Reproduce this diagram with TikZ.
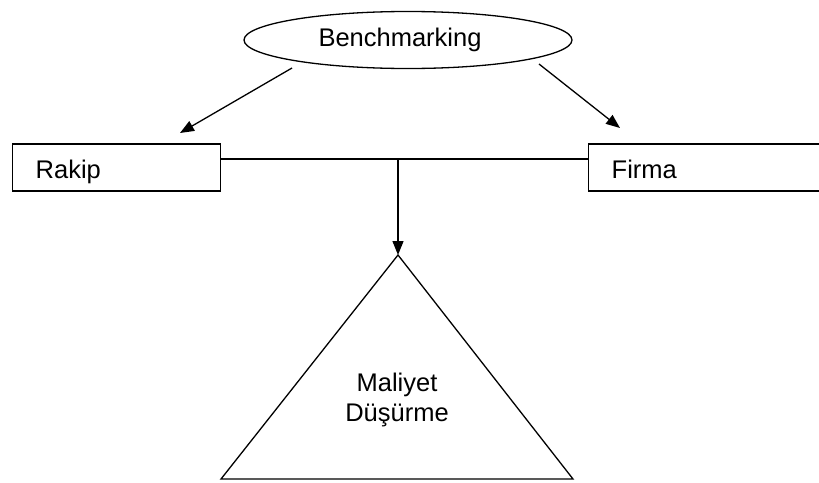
\documentclass[tikz,border=0pt]{standalone}
\usepackage{fontspec}
\setmainfont{Liberation Sans}
\usetikzlibrary{shapes.geometric,arrows.meta}
\begin{document}
\begin{tikzpicture}[x=1pt,y=-1pt,
  every node/.style={font=\fontsize{25.5}{30}\selectfont},
  boxnode/.style={draw,line width=1.4pt,rectangle,minimum height=47pt,inner xsep=23pt,anchor=west,align=left,text height=21pt,text depth=0pt},
  conn/.style={line width=1.3pt},
  arr/.style={conn,-{Triangle[length=14pt,width=11pt]}}]
\useasboundingbox (0,0) rectangle (819,482);
\clip (0,0) rectangle (819,482);
\node[draw,ellipse,line width=1.3pt,minimum width=328pt,minimum height=57pt,inner sep=0pt] (bench) at (408,40) {\hspace*{-16pt}Benchmarking};
\node[boxnode,text width=162pt] (rakip) at (12,167.5) {Rakip};
\node[boxnode,text width=200pt] (firma) at (588,167.5) {Firma};
\coordinate (b1) at (292,68);
\coordinate (b2) at (539,64);
\coordinate (t1) at (180,133);
\coordinate (t2) at (620,128);
\draw[arr] (b1) -- (t1);
\draw[arr] (b2) -- (t2);
\coordinate (j) at (398,159);
\coordinate (apex) at (398,255);
\coordinate (bl) at (221,479);
\coordinate (br) at (573,479);
\draw[conn] (rakip.east |- j) -- (firma.west |- j);
\draw[arr] (j) -- (apex);
\draw[conn,line join=miter] (apex) -- (br) -- (bl) -- cycle;
\node[align=center] (mal) at (397,400) {Maliyet\\Düşürme};
\end{tikzpicture}
\end{document}
